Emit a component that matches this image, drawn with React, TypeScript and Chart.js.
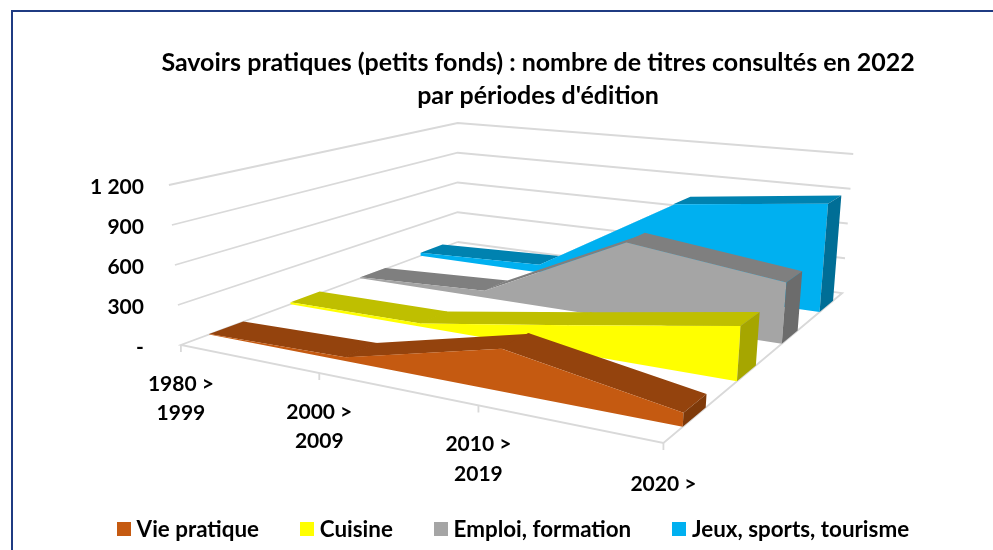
import React, { useEffect, useRef } from "react";
import { Chart, registerables } from "chart.js";

Chart.register(...registerables);

const titleLines = ["Savoirs pratiques (petits fonds) : nombre de titres consultés en 2022", "par périodes d'édition"];
const categories = [["1980 >", "1999"], ["2000 >", "2009"], ["2010 >", "2019"], ["2020 >"]];
const valueTicks = [0, 300, 600, 900, 1200];
const valueTickLabels = ["-", "300", "600", "900", "1 200"];
const seriesNames = ["Vie pratique", "Cuisine", "Emploi, formation", "Jeux, sports, tourisme"];
const viePratique = [3, 27, 290, 89];
const cuisine = [15, 25, 200, 384];
const emploi = [8, 58, 615, 463];
const jeux = [30, 70, 753, 888];
const frontColors = ["#C55A11", "#FFFF00", "#A5A5A5", "#00B0F0"];
const topColors = ["#94430D", "#BFBF00", "#7F7F7F", "#0082B0"];
const sideColors = ["#7F3A0A", "#A6A600", "#6C6C6C", "#006E96"];

type P = { x: number; y: number };
const FONT = "Lato, 'Noto Sans', sans-serif";

function homography(a: P, b: P, c: P, d: P) {
  const dx1 = b.x - c.x, dx2 = d.x - c.x, sx = a.x - b.x + c.x - d.x;
  const dy1 = b.y - c.y, dy2 = d.y - c.y, sy = a.y - b.y + c.y - d.y;
  const den = dx1 * dy2 - dx2 * dy1;
  const g = (sx * dy2 - dx2 * sy) / den;
  const h = (dx1 * sy - sx * dy1) / den;
  return (u: number, v: number): P => {
    const w = g * u + h * v + 1;
    return {
      x: ((b.x - a.x + g * b.x) * u + (d.x - a.x + h * d.x) * v + a.x) / w,
      y: ((b.y - a.y + g * b.y) * u + (d.y - a.y + h * d.y) * v + a.y) / w,
    };
  };
}

const floor = homography({ x: 181, y: 345 }, { x: 664, y: 443 }, { x: 843, y: 293 }, { x: 458, y: 242 });
const ceil = homography({ x: 169, y: 185 }, { x: 674, y: 248 }, { x: 854, y: 154 }, { x: 458, y: 123 });
const zMax = valueTicks[valueTicks.length - 1];

function project(u: number, v: number, z: number): P {
  const f = floor(u, v);
  const c = ceil(u, v);
  const t = z / zMax;
  return { x: f.x + (c.x - f.x) * t, y: f.y + (c.y - f.y) * t };
}

function polygon(points: P[]): P[] {
  let l = 0, r = 0;
  points.forEach((p, i) => {
    if (p.x < points[l].x) l = i;
    if (p.x > points[r].x) r = i;
  });
  const rotated = points.slice(l).concat(points.slice(0, l));
  return [...rotated, points[l], points[r]];
}

function swatch(color: string) {
  const c = document.createElement("canvas");
  c.width = 14;
  c.height = 14;
  const g = c.getContext("2d") as CanvasRenderingContext2D;
  g.fillStyle = color;
  g.fillRect(0, 0, 14, 14);
  return c;
}

const faceDefaults = { showLine: true, fill: "shape", borderWidth: 0, pointRadius: 0, pointHoverRadius: 0, tension: 0, clip: false };

function seriesDatasets(name: string, values: number[], i: number) {
  const v0 = 0.078 + 0.25 * i;
  const v1 = v0 + 0.1;
  const n = values.length - 1;
  const u = (k: number) => k / n;
  const out: any[] = [];
  out.push({
    ...faceDefaults, label: "", backgroundColor: sideColors[i],
    data: polygon([project(1, v0, 0), project(1, v1, 0), project(1, v1, values[n]), project(1, v0, values[n])]),
  });
  out.push({
    ...faceDefaults, label: name, backgroundColor: frontColors[i], pointStyle: swatch(frontColors[i]),
    data: polygon([project(0, v0, 0), ...values.map((val, k) => project(u(k), v0, val)), project(1, v0, 0)]),
  });
  for (let k = n - 1; k >= 0; k--) {
    const e = k === 0 ? 0 : 0.004;
    const dz = (values[k + 1] - values[k]) * n;
    const a = u(k) - e;
    const za = values[k] - dz * e;
    out.push({
      ...faceDefaults, label: "", backgroundColor: topColors[i],
      data: polygon([
        project(a, v0, za), project(u(k + 1), v0, values[k + 1]),
        project(u(k + 1), v1, values[k + 1]), project(a, v1, za),
      ]),
    });
  }
  return out;
}

function gridDatasets() {
  const base = { showLine: true, fill: false, borderColor: "#D9D9D9", borderWidth: 1.8, pointRadius: 0, pointHoverRadius: 0, label: "", clip: false };
  const out: any[] = [];
  const n = categories.length - 1;
  categories.forEach((_, k) => {
    const p = project(k / n, 0, 0);
    out.push({ ...base, data: [p, { x: p.x, y: p.y + 7 }] });
  });
  out.push({
    ...base,
    data: [project(0, 1, 0), project(0, 0, 0), project(1, 0, 0), project(1, 1, 0), project(0, 1, 0)],
  });
  valueTicks.slice(1).forEach((z) => {
    out.push({ ...base, data: [project(0, 0, z), project(0, 1, z), project(1, 1, z)] });
  });
  return out;
}

const labelDy = [39, 39, 39, 41];

const textPlugin = {
  id: "axisText",
  afterDatasetsDraw(chart: any) {
    const { ctx, scales } = chart;
    const n = categories.length - 1;
    ctx.save();
    ctx.fillStyle = "#000";
    ctx.font = `700 21px ${FONT}`;
    ctx.textBaseline = "middle";
    ctx.textAlign = "right";
    valueTicks.forEach((z, i) => {
      const p = project(0, 0, z);
      ctx.fillText(valueTickLabels[i], scales.x.getPixelForValue(144), scales.y.getPixelForValue(p.y + 2));
    });
    ctx.textAlign = "center";
    categories.forEach((lines, k) => {
      const p = project(k / n, 0, 0);
      lines.forEach((line, j) => {
        ctx.fillText(line, scales.x.getPixelForValue(p.x), scales.y.getPixelForValue(p.y + labelDy[k] + j * 29.5));
      });
    });
    ctx.restore();
  },
};

export default function App() {
  const ref = useRef<HTMLCanvasElement>(null);
  useEffect(() => {
    document.body.style.margin = "0";
    document.body.style.background = "#fff";
    const datasets = [
      ...[viePratique, cuisine, emploi, jeux].flatMap((vals, i) => seriesDatasets(seriesNames[i], vals, i)),
      ...gridDatasets(),
    ];
    const chart: any = new Chart(ref.current as HTMLCanvasElement, {
      type: "scatter",
      data: { datasets },
      plugins: [textPlugin],
      options: {
        animation: false,
        responsive: false,
        events: [],
        layout: { padding: { left: 38.5, right: 0, top: 0, bottom: -0.5 } },
        scales: {
          x: { type: "linear", display: false, min: 0, max: 993 },
          y: {
            type: "linear", reverse: true, min: 0, max: 550,
            ticks: { display: false }, grid: { display: false }, border: { display: false },
            afterFit: (s: any) => { s.width = 45.5; },
          },
        },
        plugins: {
          tooltip: { enabled: false },
          title: {
            display: true, fullSize: false, text: titleLines, color: "#000",
            font: { family: FONT, size: 25, weight: "700", lineHeight: "33px" },
            padding: { top: 46, bottom: 2 },
          },
          legend: {
            display: true, position: "bottom",
            labels: {
              color: "#000", usePointStyle: true, pointStyleWidth: 3, boxHeight: 14, padding: 46.5,
              font: { family: FONT, size: 22.4, weight: "700" },
              filter: (item: any) => !!item.text,
            },
          },
        },
      },
    } as any);
    const a = chart.chartArea;
    chart.options.scales.x.min = a.left;
    chart.options.scales.x.max = a.right;
    chart.options.scales.y.min = a.top;
    chart.options.scales.y.max = a.bottom;
    chart.update();
    return () => chart.destroy();
  }, []);
  return (
    <div style={{ position: "fixed", left: 0, top: 0, width: 993, height: 550, overflow: "hidden", background: "#fff" }}>
      <div style={{ position: "absolute", left: 11, top: 10, right: -4, bottom: -4, borderLeft: "2px solid #1F3B82", borderTop: "2px solid #1F3B82" }} />
      <canvas ref={ref} width={993} height={550} style={{ position: "absolute", left: 0, top: 0 }} />
    </div>
  );
}
